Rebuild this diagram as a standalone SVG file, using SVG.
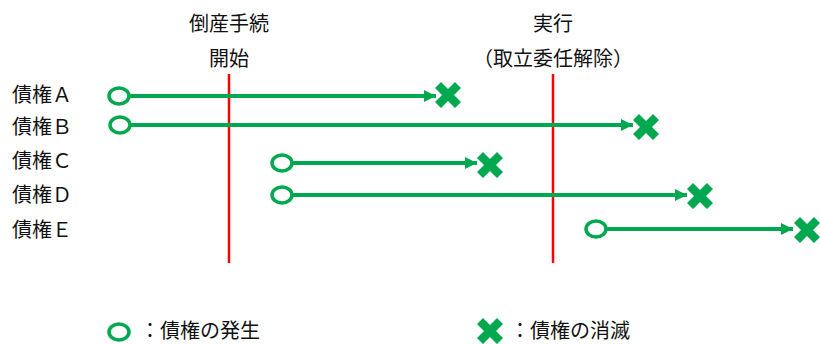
<svg xmlns="http://www.w3.org/2000/svg" width="820" height="344" viewBox="0 0 820 344">
<style>
text{font-family:"Noto Sans CJK JP","Noto Sans CJK SC",sans-serif;font-size:20px;fill:#111}
.mid{text-anchor:middle}
.start{fill:#fff;stroke:#00A84F;stroke-width:3.5}
.end{fill:#00A84F}
.flow{stroke:#00A84F;stroke-width:4;fill:none}
.mark{stroke:#FF0000;stroke-width:2.5}
</style>
<defs>
<marker id="ah" viewBox="0 0 12 12" refX="12" refY="6" markerWidth="12" markerHeight="12" markerUnits="userSpaceOnUse" orient="auto">
<path d="M0,0 L12,6 L0,12 Z" fill="#00A84F"/>
</marker>
<path id="x" d="M-13,-7 L-7,-13 L0,-6 L7,-13 L13,-7 L6,0 L13,7 L7,13 L0,6 L-7,13 L-13,7 L-6,0 Z"/>
</defs>

<g id="milestones">
<line class="mark" x1="229" y1="74" x2="229" y2="263"/>
<line class="mark" x1="553" y1="74" x2="553" y2="263"/>
<text class="mid" x="229" y="31">倒産手続</text>
<text class="mid" x="229" y="66">開始</text>
<text class="mid" x="553" y="31">実行</text>
<text class="mid" x="553" y="66">（取立委任解除）</text>
</g>

<g id="connectors">
<line class="flow" x1="129" y1="96" x2="436" y2="96" marker-end="url(#ah)"/>
<line class="flow" x1="130" y1="125" x2="633" y2="125" marker-end="url(#ah)"/>
<line class="flow" x1="292" y1="163" x2="477" y2="163" marker-end="url(#ah)"/>
<line class="flow" x1="292" y1="195" x2="687" y2="195" marker-end="url(#ah)"/>
<line class="flow" x1="606" y1="229" x2="793" y2="229" marker-end="url(#ah)"/>
</g>

<g id="claimA">
<text x="12" y="102">債権Ａ</text>
<ellipse class="start" cx="119" cy="96" rx="10" ry="8"/>
<use href="#x" class="end" x="448" y="95"/>
</g>
<g id="claimB">
<text x="12" y="134">債権Ｂ</text>
<ellipse class="start" cx="120" cy="125" rx="10" ry="8"/>
<use href="#x" class="end" x="646" y="127"/>
</g>
<g id="claimC">
<text x="12" y="168">債権Ｃ</text>
<ellipse class="start" cx="282" cy="163" rx="10" ry="8"/>
<use href="#x" class="end" x="490" y="165"/>
</g>
<g id="claimD">
<text x="12" y="202">債権Ｄ</text>
<ellipse class="start" cx="282" cy="195" rx="10" ry="8"/>
<use href="#x" class="end" x="700" y="196"/>
</g>
<g id="claimE">
<text x="12" y="237">債権Ｅ</text>
<ellipse class="start" cx="596" cy="229" rx="10" ry="8"/>
<use href="#x" class="end" x="807" y="230"/>
</g>

<g id="legend">
<ellipse class="start" cx="119" cy="332" rx="10" ry="8"/>
<text x="140" y="338">：債権の発生</text>
<use href="#x" class="end" x="490" y="331"/>
<text x="510" y="338">：債権の消滅</text>
</g>
</svg>
